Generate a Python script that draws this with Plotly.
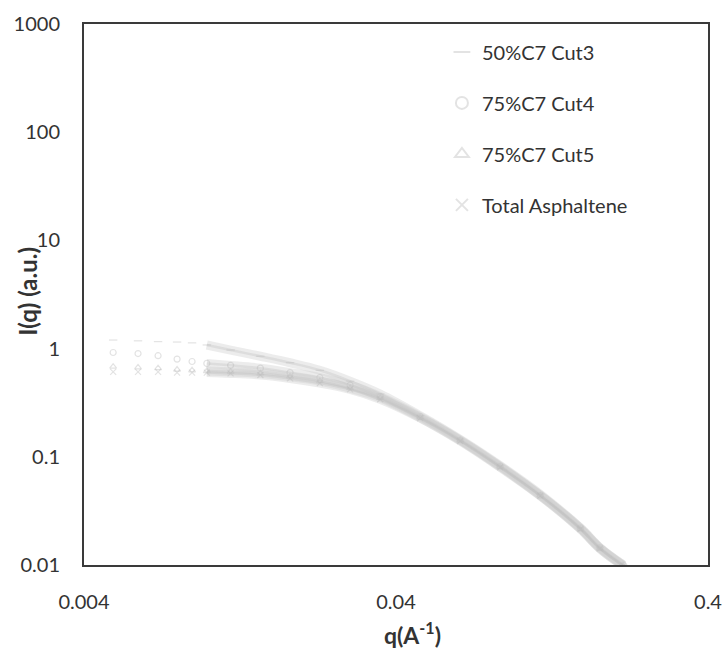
import math
import plotly.graph_objects as go

# Scattering vector q (1/Å) shared by all samples
q = [0.00496, 0.00596, 0.00691, 0.00795, 0.00888, 0.0099, 0.0118, 0.0147,
     0.0183, 0.0228, 0.0285, 0.0356, 0.0478, 0.0642, 0.0862, 0.116, 0.156,
     0.180, 0.214]

# Scattered intensity I(q) (a.u.) for each fraction
i_cut3 = [1.20, 1.18, 1.16, 1.15, 1.13, 1.08, 0.97, 0.85, 0.74, 0.63, 0.50,
          0.38, 0.24, 0.145, 0.083, 0.045, 0.022, 0.0145, 0.010]
i_cut4 = [0.92, 0.90, 0.86, 0.80, 0.76, 0.73, 0.70, 0.66, 0.60, 0.54, 0.46,
          0.36, 0.235, 0.143, 0.082, 0.044, 0.022, 0.0145, 0.010]
i_cut5 = [0.68, 0.67, 0.66, 0.64, 0.63, 0.62, 0.61, 0.59, 0.55, 0.50, 0.43,
          0.35, 0.23, 0.142, 0.081, 0.044, 0.0215, 0.0142, 0.0098]
i_total = [0.61, 0.61, 0.61, 0.60, 0.60, 0.60, 0.59, 0.57, 0.53, 0.48, 0.42,
           0.34, 0.228, 0.14, 0.08, 0.0435, 0.0215, 0.0142, 0.0098]

series_names = ["50%C7 Cut3", "75%C7 Cut4", "75%C7 Cut5", "Total Asphaltene"]
series_values = [i_cut3, i_cut4, i_cut5, i_total]
symbols = ["line-ew", "circle-open", "triangle-up-open", "x-thin-open"]

y_ticks = [0.01, 0.1, 1, 10, 100, 1000]
y_tick_text = ["0.01", "0.1", "1", "10", "100", "1000"]
x_ticks = [0.004, 0.04, 0.4]
x_tick_text = ["0.004", "0.04", "0.4"]

FONT = "Lato, 'Open Sans', sans-serif"
TEXT = "#333333"
dense_start = 5  # from here on the measured points run together into a band

fig = go.Figure()
for name, vals, sym in zip(series_names, series_values, symbols):
    # dense part drawn as a soft band
    fig.add_trace(go.Scatter(
        x=q[dense_start:], y=vals[dense_start:], mode="lines",
        line=dict(color="rgba(205,205,205,0.38)", width=9, shape="spline"),
        legendgroup=name, showlegend=False, hoverinfo="skip"))
    fig.add_trace(go.Scatter(
        x=q[dense_start:], y=vals[dense_start:], mode="lines",
        line=dict(color="rgba(185,185,185,0.30)", width=2.5, shape="spline"),
        legendgroup=name, showlegend=False, hoverinfo="skip"))
    fig.add_trace(go.Scatter(
        x=q, y=vals, mode="markers", name=name, legendgroup=name,
        marker=dict(symbol=sym, size=6,
                    color="rgba(185,185,185,0.40)",
                    line=dict(color="rgba(185,185,185,0.40)", width=1.2))))

axis_common = dict(
    type="log", showgrid=False, zeroline=False, automargin=False,
    showline=True, linecolor="#3a3a3a", linewidth=2, mirror=True,
    ticks="outside", ticklen=0, tickcolor="rgba(0,0,0,0)",
    tickfont=dict(family=FONT, size=20, color=TEXT),
)

fig.update_xaxes(
    **axis_common,
    range=[math.log10(x_ticks[0]), math.log10(x_ticks[-1])],
    tickvals=x_ticks, ticktext=x_tick_text, ticklabelstandoff=18,
)
fig.update_yaxes(
    **axis_common,
    range=[math.log10(y_ticks[0]), math.log10(y_ticks[-1])],
    tickvals=y_ticks, ticktext=y_tick_text, ticklabelstandoff=18,
)

# axis titles
fig.add_annotation(text="<b>I(q) (a.u.)</b>", textangle=-90,
                   xref="paper", yref="paper", x=-0.0897, y=0.505,
                   xanchor="center", yanchor="middle", showarrow=False,
                   font=dict(family=FONT, size=24, color=TEXT))
fig.add_annotation(text="<b>q(A<sup>-1</sup>)</b>",
                   xref="paper", yref="paper", x=0.527, y=-0.1257,
                   xanchor="center", yanchor="middle", showarrow=False,
                   font=dict(family=FONT, size=23, color=TEXT))

fig.update_layout(
    width=723, height=653,
    margin=dict(l=84, r=15, t=24, b=88),
    paper_bgcolor="white", plot_bgcolor="white",
    legend=dict(x=0.5736, y=0.9845, xanchor="left", yanchor="top",
                bgcolor="rgba(0,0,0,0)", tracegroupgap=22,
                font=dict(family=FONT, size=20, color=TEXT),
                itemsizing="constant"),
)

fig.write_html("out.html")
